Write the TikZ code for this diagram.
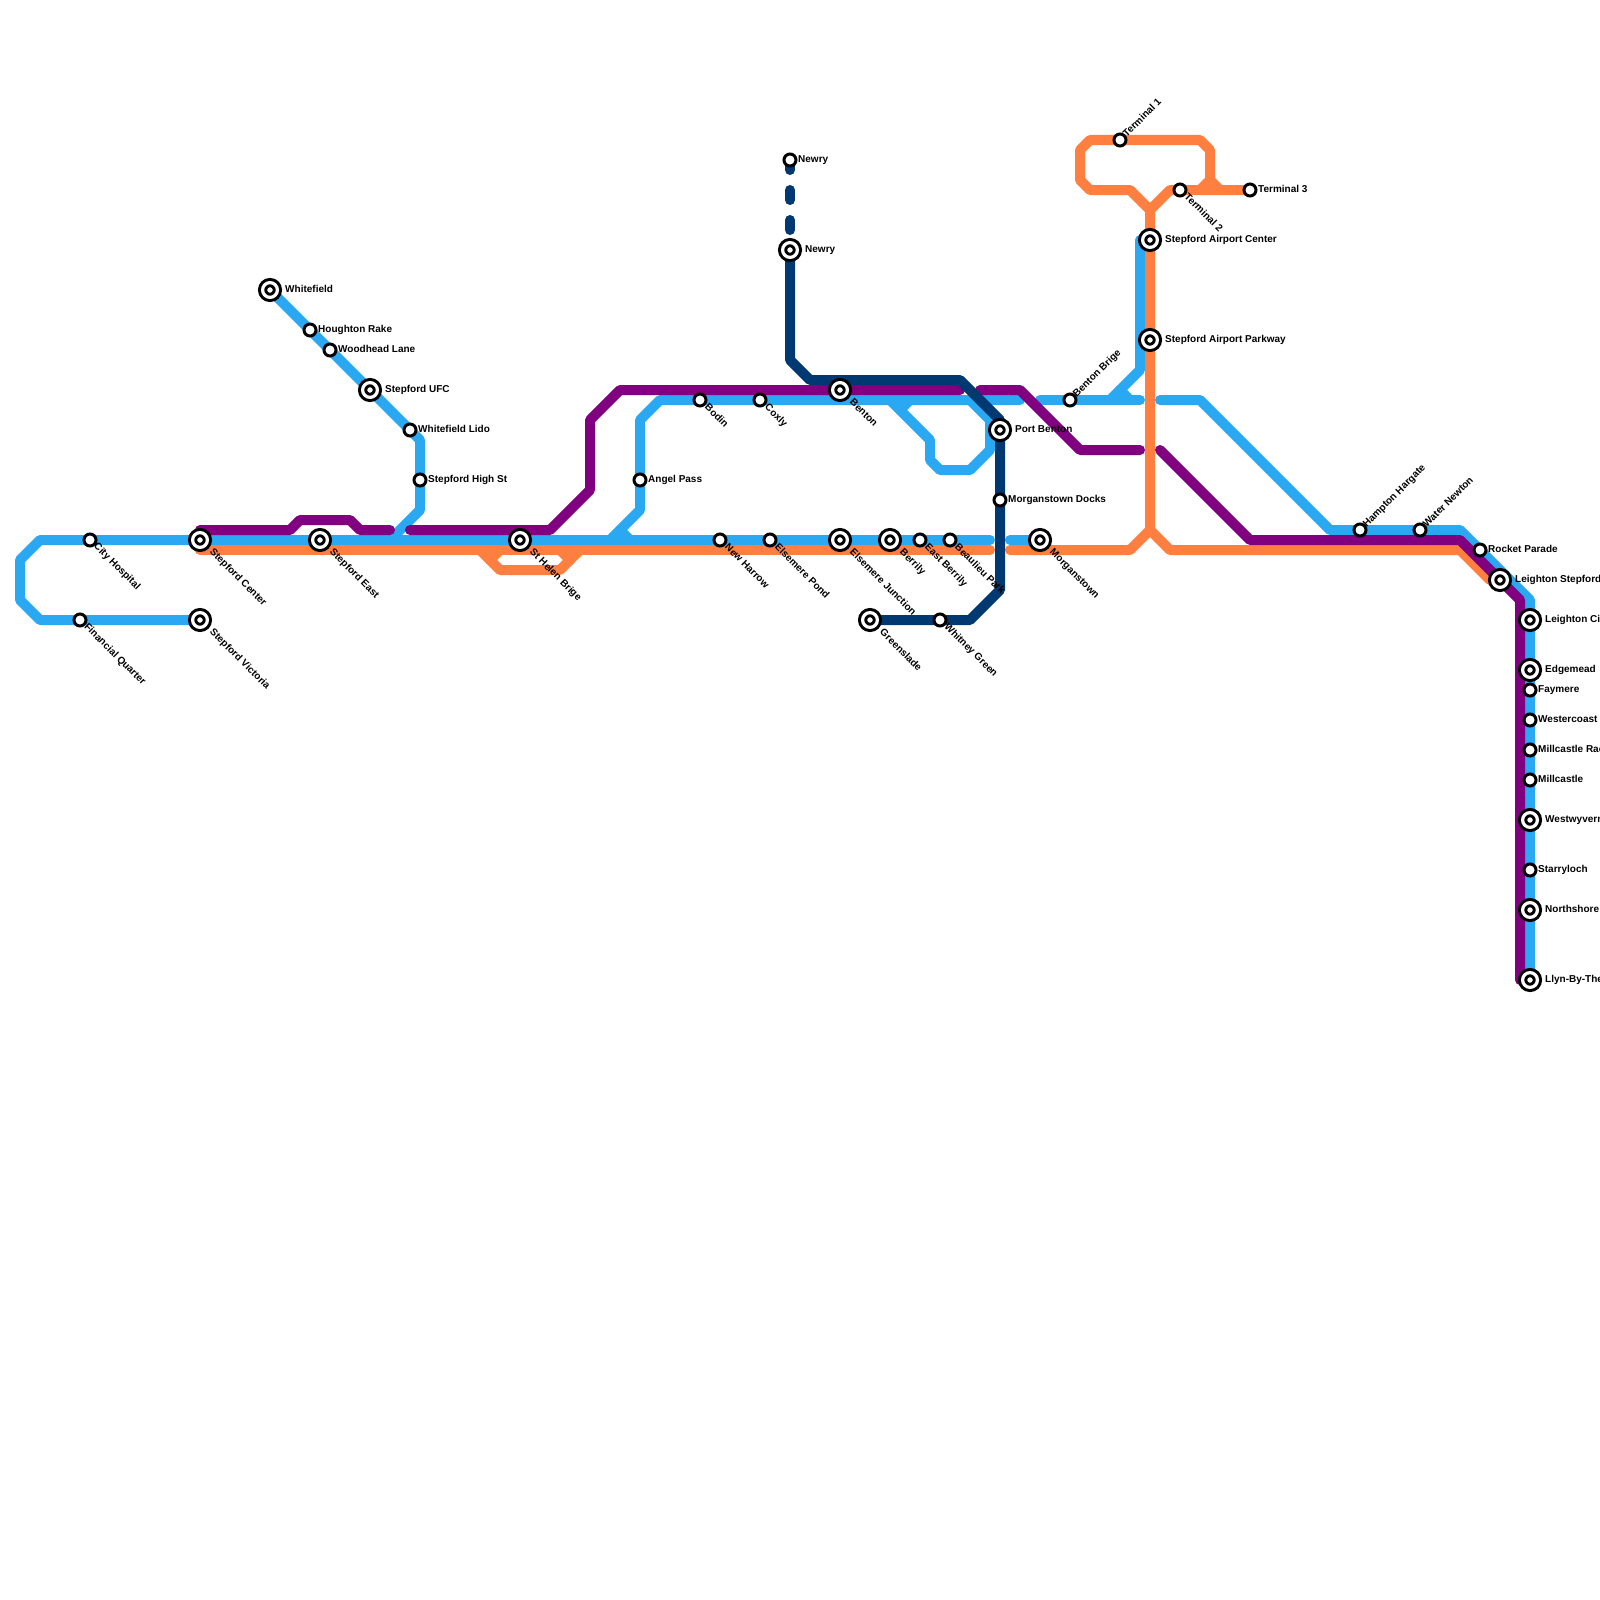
\documentclass[tikz,border=0pt]{standalone}
\usepackage{fontspec}
\setmainfont{Liberation Sans}
\usepackage{tikz}
\usetikzlibrary{backgrounds}
\definecolor{skyline}{RGB}{43,168,242}
\definecolor{carrot}{RGB}{255,127,64}
\definecolor{plum}{RGB}{128,0,128}
\definecolor{navyline}{RGB}{0,56,113}
\tikzset{
  route/.style={line width=10pt, line cap=round, line join=round},
  bigstop/.style={circle, draw=black, line width=3pt, double=white, double distance=3.2pt, fill=white,
    inner sep=0pt, outer sep=0pt, minimum size=14.8pt},
  smallstop/.style={circle, draw=black, line width=3pt, fill=white, inner sep=0pt, minimum size=12pt},
  lbl/.style={anchor=west, inner sep=0pt, text height=7pt, text depth=2pt, font=\fontsize{10}{11}\selectfont\bfseries},
  lblse/.style={lbl, rotate=-45},
  lblne/.style={lbl, rotate=45}
}

\begin{document}
\begin{tikzpicture}[x=1pt, y=-1pt]
  \useasboundingbox (0,0) rectangle (1600,1600);

  % large stops
  \node[bigstop] (whitefield) at (270,290) {};
  \node[bigstop] (stepforduf) at (370,390) {};
  \node[bigstop] (stepfordcenter) at (200,540) {};
  \node[bigstop] (stepfordvictoria) at (200,620) {};
  \node[bigstop] (stepfordeast) at (320,540) {};
  \node[bigstop] (sthelen) at (520,540) {};
  \node[bigstop] (newrylow) at (790,250) {};
  \node[bigstop] (benton) at (840,390) {};
  \node[bigstop] (elsemerej) at (840,540) {};
  \node[bigstop] (berrily) at (890,540) {};
  \node[bigstop] (portbenton) at (1000,430) {};
  \node[bigstop] (morganstown) at (1040,540) {};
  \node[bigstop] (greenslade) at (870,620) {};
  \node[bigstop] (airportcenter) at (1150,240) {};
  \node[bigstop] (airportparkway) at (1150,340) {};
  \node[bigstop] (leightonstep) at (1500,580) {};
  \node[bigstop] (leightoncity) at (1530,620) {};
  \node[bigstop] (edgemead) at (1530,670) {};
  \node[bigstop] (westwyvern) at (1530,820) {};
  \node[bigstop] (northshore) at (1530,910) {};
  \node[bigstop] (llyn) at (1530,980) {};

  % small stops
  \node[smallstop] (cityhospital) at (90,540) {};
  \node[smallstop] (financial) at (80,620) {};
  \node[smallstop] (houghton) at (310,330) {};
  \node[smallstop] (woodhead) at (330,350) {};
  \node[smallstop] (lido) at (410,430) {};
  \node[smallstop] (highst) at (420,480) {};
  \node[smallstop] (angelpass) at (640,480) {};
  \node[smallstop] (bodin) at (700,400) {};
  \node[smallstop] (coxly) at (760,400) {};
  \node[smallstop] (newharrow) at (720,540) {};
  \node[smallstop] (elsemerep) at (770,540) {};
  \node[smallstop] (eastberrily) at (920,540) {};
  \node[smallstop] (beaulieu) at (950,540) {};
  \node[smallstop] (whitney) at (940,620) {};
  \node[smallstop] (docks) at (1000,500) {};
  \node[smallstop] (newrytop) at (790,160) {};
  \node[smallstop] (bentonbrige) at (1070,400) {};
  \node[smallstop] (terminalone) at (1120,140) {};
  \node[smallstop] (terminaltwo) at (1180,190) {};
  \node[smallstop] (terminalthree) at (1250,190) {};
  \node[smallstop] (hampton) at (1360,530) {};
  \node[smallstop] (waternewton) at (1420,530) {};
  \node[smallstop] (rocket) at (1480,550) {};
  \node[smallstop] (faymere) at (1530,690) {};
  \node[smallstop] (westercoast) at (1530,720) {};
  \node[smallstop] (millrace) at (1530,750) {};
  \node[smallstop] (millcastle) at (1530,780) {};
  \node[smallstop] (starryloch) at (1530,870) {};

  % lines
  \begin{pgfonlayer}{background}
    \fill[white] (0,0) rectangle (1600,1600);
    \draw[route,skyline] (stepfordvictoria.center) -- (financial.center) -- (40,620) -- (20,600) -- (20,560) -- (40,540)
      -- (cityhospital.center) -- (stepfordcenter.center) -- (990,540);
    \draw[route,skyline] (morganstown.center) -- (1010,540);
    \draw[route,skyline] (whitefield.center) -- (houghton.center) -- (woodhead.center) -- (stepforduf.center)
      -- (lido.center) -- (420,440) -- (highst.center) -- (420,510) -- (390,540);
    \draw[route,skyline] (610,540) -- (640,510) -- (angelpass.center) -- (640,420) -- (660,400) -- (1020,400);
    \draw[route,skyline] (620,530) -- (630,540);
    \draw[route,skyline] (890,400) -- (930,440) -- (930,460) -- (940,470) -- (970,470) -- (990,450) -- (990,420) -- (970,400);
    \draw[route,skyline] (900,410) -- (910,400);
    \draw[route,skyline] (1040,400) -- (bentonbrige.center) -- (1140,400);
    \draw[route,skyline] (1110,400) -- (1140,370) -- (1140,240);
    \draw[route,skyline] (1120,390) -- (1130,400);
    \draw[route,skyline] (1160,400) -- (1200,400) -- (1330,530) -- (1460,530) -- (1530,600) -- (llyn.center);

    \draw[route,carrot] (200,550) -- (990,550);
    \draw[route,carrot] (480,550) -- (500,570) -- (560,570) -- (580,550);
    \draw[route,carrot] (490,560) -- (500,550);
    \draw[route,carrot] (570,560) -- (560,550);
    \draw[route,carrot] (1010,550) -- (1130,550) -- (1150,530) -- (1150,210) -- (1130,190) -- (1090,190) -- (1080,180)
      -- (1080,150) -- (1090,140) -- (1200,140) -- (1210,150) -- (1210,180) -- (1200,190);
    \draw[route,carrot] (1150,210) -- (1170,190) -- (terminalthree.center);
    \draw[route,carrot] (1210,180) -- (1220,190);
    \draw[route,carrot] (1150,530) -- (1170,550) -- (1460,550) -- (1490,580);

    \draw[route,plum] (200,530) -- (290,530) -- (300,520) -- (350,520) -- (360,530) -- (390,530);
    \draw[route,plum] (410,530) -- (550,530) -- (590,490) -- (590,420) -- (620,390) -- (960,390);
    \draw[route,plum] (980,390) -- (1020,390) -- (1080,450) -- (1140,450);
    \draw[route,plum] (1160,450) -- (1250,540) -- (1460,540) -- (1520,600) -- (1520,980);

    \draw[route,navyline,dash pattern=on 10pt off 20pt] (newrytop.center) -- (newrylow.center);
    \draw[route,navyline] (newrylow.center) -- (790,360) -- (810,380) -- (960,380) -- (1000,420) -- (1000,590) -- (970,620) -- (greenslade.center);
  \end{pgfonlayer}

  % labels to the right
  \node[lbl] (whitefieldtxt) at (285,290) {Whitefield};
  \node[lbl] (houghtontxt) at (318,330) {Houghton Rake};
  \node[lbl] (woodheadtxt) at (338,350) {Woodhead Lane};
  \node[lbl] (stepfordufctxt) at (385,390) {Stepford UFC};
  \node[lbl] (lidotxt) at (418,430) {Whitefield Lido};
  \node[lbl] (highsttxt) at (428,480) {Stepford High St};
  \node[lbl] (angeltxt) at (648,480) {Angel Pass};
  \node[lbl] (newrytoptxt) at (798,160) {Newry};
  \node[lbl] (newrylowtxt) at (805,250) {Newry};
  \node[lbl] (portbentontxt) at (1015,430) {Port Benton};
  \node[lbl] (dockstxt) at (1008,500) {Morganstown Docks};
  \node[lbl] (airportcentertxt) at (1165,240) {Stepford Airport Center};
  \node[lbl] (airportparkwaytxt) at (1165,340) {Stepford Airport Parkway};
  \node[lbl] (terminalthreetxt) at (1258,190) {Terminal 3};
  \node[lbl] (rockettxt) at (1488,550) {Rocket Parade};
  \node[lbl] (leightonsteptxt) at (1515,580) {Leighton Stepford};
  \node[lbl] (leightoncitytxt) at (1545,620) {Leighton City};
  \node[lbl] (edgemeadtxt) at (1545,670) {Edgemead};
  \node[lbl] (faymeretxt) at (1538,690) {Faymere};
  \node[lbl] (westercoasttxt) at (1538,720) {Westercoast};
  \node[lbl] (millracetxt) at (1538,750) {Millcastle Race};
  \node[lbl] (millcastletxt) at (1538,780) {Millcastle};
  \node[lbl] (westwyverntxt) at (1545,820) {Westwyvern};
  \node[lbl] (starrylochtxt) at (1538,870) {Starryloch};
  \node[lbl] (northshoretxt) at (1545,910) {Northshore};
  \node[lbl] (llyntxt) at (1545,980) {Llyn-By-The};

  % labels going down
  \node[lblse] (cityhospitaltxt) at (95,545) {City Hospital};
  \node[lblse] (financialtxt) at (85.5,625.5) {Financial Quarter};
  \node[lblse] (stepfordcentertxt) at (211,551) {Stepford Center};
  \node[lblse] (stepfordvictoriatxt) at (211,631) {Stepford Victoria};
  \node[lblse] (stepfordeasttxt) at (331,551) {Stepford East};
  \node[lblse] (sthelentxt) at (531,551) {St Helen Brige};
  \node[lblse] (bodintxt) at (706,406) {Bodin};
  \node[lblse] (coxlytxt) at (766,406) {Coxly};
  \node[lblse] (bentontxt) at (851,401) {Benton};
  \node[lblse] (newharrowtxt) at (726,546) {New Harrow};
  \node[lblse] (elsemereptxt) at (776,546) {Elsemere Pond};
  \node[lblse] (elsemerejtxt) at (851,551) {Elsemere Junction};
  \node[lblse] (berrilytxt) at (901,551) {Berrily};
  \node[lblse] (eastberrilytxt) at (926,546) {East Berrily};
  \node[lblse] (beaulieutxt) at (956,546) {Beaulieu Park};
  \node[lblse] (greensladetxt) at (881,631) {Greenslade};
  \node[lblse] (whitneytxt) at (945.5,625.5) {Whitney Green};
  \node[lblse] (morganstowntxt) at (1051,551) {Morganstown};
  \node[lblse] (terminaltwotxt) at (1185.5,195.5) {Terminal 2};

  % labels going up
  \node[lblne] (bentonbrigetxt) at (1075,396) {Benton Brige};
  \node[lblne] (terminalonetxt) at (1125,136) {Terminal 1};
  \node[lblne] (hamptontxt) at (1365,526) {Hampton Hargate};
  \node[lblne] (waternewtontxt) at (1425,526) {Water Newton};
\end{tikzpicture}
\end{document}
